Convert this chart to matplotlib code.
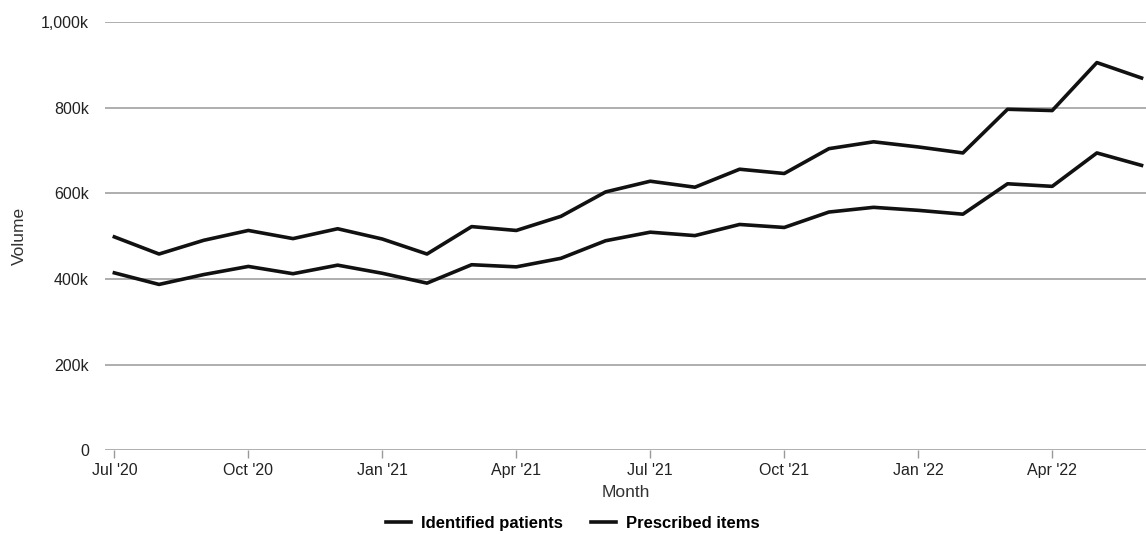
import matplotlib
matplotlib.use("Agg")
import matplotlib.pyplot as plt
from matplotlib.ticker import FuncFormatter


# -----------------------------
# Monthly volumes, Jul '20 - Jun '22
# -----------------------------

months = ["Jul '20", "Aug '20", "Sep '20", "Oct '20", "Nov '20", "Dec '20",
          "Jan '21", "Feb '21", "Mar '21", "Apr '21", "May '21", "Jun '21",
          "Jul '21", "Aug '21", "Sep '21", "Oct '21", "Nov '21", "Dec '21",
          "Jan '22", "Feb '22", "Mar '22", "Apr '22", "May '22", "Jun '22"]

identified_patients = [414000, 387000, 410000, 429000, 412000, 432000,
                       413000, 390000, 433000, 428000, 448000, 489000,
                       509000, 501000, 527000, 520000, 556000, 567000,
                       560000, 551000, 622000, 616000, 694000, 665000]

prescribed_items = [498000, 458000, 490000, 513000, 494000, 517000,
                    493000, 458000, 522000, 513000, 546000, 603000,
                    628000, 614000, 656000, 646000, 704000, 720000,
                    708000, 694000, 796000, 793000, 905000, 869000]

y_ticks = [0, 200000, 400000, 600000, 800000, 1000000]


def volume_label(v, pos):
    if v == 0:
        return "0"
    return f"{v / 1000:,.0f}k"


# -----------------------------
# Plot
# -----------------------------

plt.rcParams["font.family"] = ["Liberation Sans", "DejaVu Sans"]

fig = plt.figure(figsize=(11.46, 5.34), dpi=100)
ax = fig.add_axes([0.092, 0.157, 0.908, 0.802])

x = list(range(len(months)))

ax.plot(x, identified_patients, color="#111111", lw=2.6,
        label="Identified patients", zorder=3)
ax.plot(x, prescribed_items, color="#111111", lw=2.6,
        label="Prescribed items", zorder=3)

ax.set_xlim(-0.2, 23.1)
ax.set_ylim(0, 1000000)

ax.set_yticks(y_ticks)
ax.yaxis.set_major_formatter(FuncFormatter(volume_label))
ax.tick_params(axis="y", length=0, pad=12, labelsize=11.5, colors="#222222")

quarter_idx = x[::3]
ax.set_xticks(quarter_idx)
ax.set_xticklabels([months[i] for i in quarter_idx])
ax.tick_params(axis="x", length=6, width=1, color="#999999", pad=3,
               labelsize=11.5, labelcolor="#222222")

ax.grid(axis="y", color="#a8a8a8", lw=1.3)
ax.set_axisbelow(True)
for side in ["top", "right", "left", "bottom"]:
    ax.spines[side].set_visible(False)

ax.set_xlabel("Month", fontsize=12.5, color="#333333", labelpad=5)
ax.set_ylabel("Volume", fontsize=12.5, color="#333333", labelpad=10)

fig.legend(loc="center", bbox_to_anchor=(0.5, 0.02), ncol=2, frameon=False,
           handlelength=1.5, handletextpad=0.6, columnspacing=1.7,
           prop={"weight": "bold", "size": 12})

fig.savefig("out.png", dpi=100)
